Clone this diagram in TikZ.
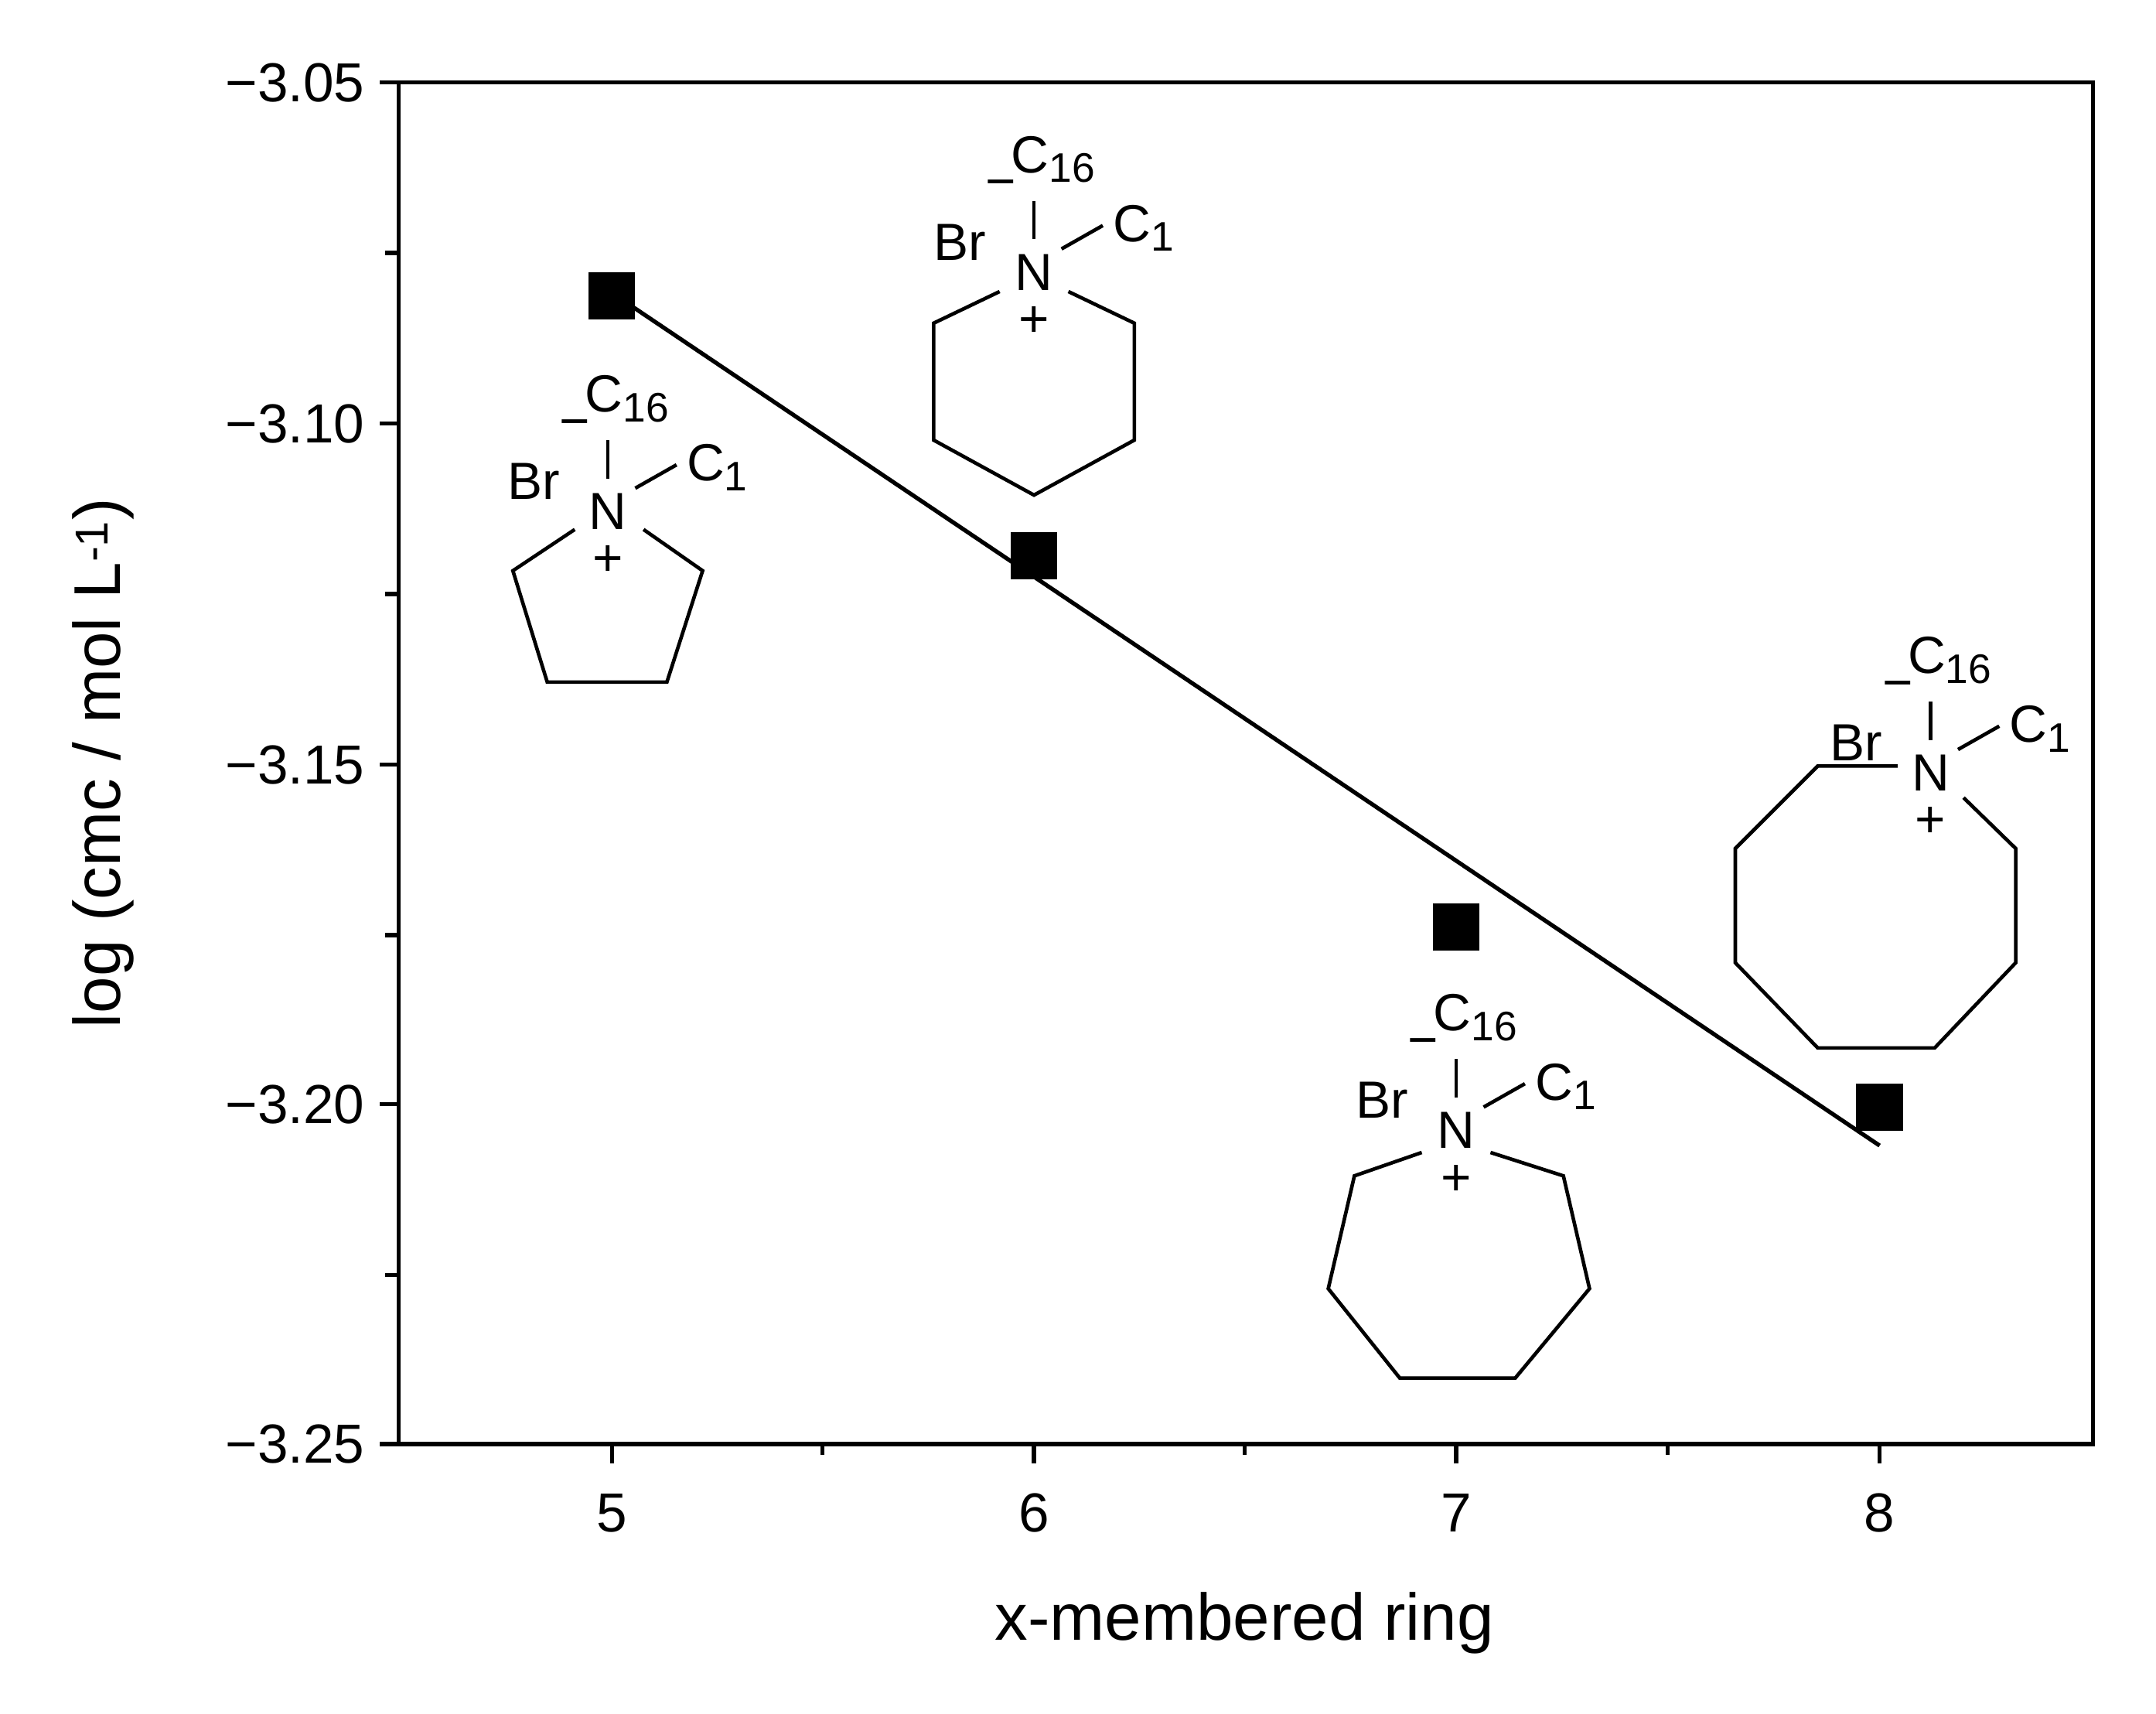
\documentclass[tikz,border=0pt]{standalone}
\usepackage{fontspec}
\setmainfont{Liberation Sans}
\newcommand{\headgrp}[2]{% x y
  \node[ch] at (#1,#2) {N};
  \node[ch] at (#1-54,#2-22) {Br};
  \node[ch] at (#1-24,#2-60) {−};
  \node[ch,anchor=west] at (#1-18,#2-82) {C\raisebox{-0.35ex}{\fontsize{30}{32}\selectfont 16}};
  \node[ch,anchor=west] at (#1+56,#2-32) {C\raisebox{-0.35ex}{\fontsize{30}{32}\selectfont 1}};
  \draw[bd] (#1,#2-52) -- (#1,#2-24);
  \draw[bd] (#1+20,#2-17) -- (#1+50,#2-34);
  \node[ch] at (#1,#2+36) {+};}
\begin{document}
\begin{tikzpicture}[x=1pt,y=-1pt,line width=3pt,
  tl/.style={font=\fontsize{40}{44}\selectfont},
  ch/.style={font=\fontsize{38}{40}\selectfont,inner sep=0pt},
  bd/.style={line width=2.6pt},
  pt/.style={fill=black,minimum size=34pt,inner sep=0pt}]
\useasboundingbox (0,0) rectangle (1568,1246);
\draw (290,60) rectangle (1522,1050);
\foreach \y/\l in {60/{−3.05},308/{−3.10},556/{−3.15},803/{−3.20},1050/{−3.25}}{
  \draw (290,\y) -- (276,\y);
  \node[tl,anchor=east] at (270,\y) {\l};}
\foreach \y in {184,432,680,927} \draw (290,\y) -- (280,\y);
\foreach \x/\l in {445/5,752/6,1059/7,1367/8}{
  \draw (\x,1050) -- (\x,1064);
  \node[tl] at (\x,1100) {\l};}
\foreach \x in {598,905,1213} \draw (\x,1050) -- (\x,1058);
\node[font=\fontsize{48}{52}\selectfont,rotate=90] at (75,555) {log (cmc / mol L\textsuperscript{-1})};
\node[font=\fontsize{48}{52}\selectfont] at (905,1180) {x-membered ring};
\coordinate (f1) at (460,223); \coordinate (f2) at (1367,833);
\draw (f1) -- (f2);
\node[pt] (p5) at (445,215) {};
\node[pt] (p6) at (752,404) {};
\node[pt] (p7) at (1059,674) {};
\node[pt] (p8) at (1367,805) {};
\headgrp{442}{372}
\draw[bd] (418,385) -- (373,415) -- (398,496) -- (485,496) -- (511,415) -- (468,385);
\headgrp{752}{198}
\draw[bd] (727,212) -- (679,235) -- (679,320) -- (752,360) -- (825,320) -- (825,235) -- (777,212);
\headgrp{1059}{822}
\draw[bd] (1034,838) -- (985,855) -- (966,937) -- (1018,1002) -- (1102,1002) -- (1156,937) -- (1137,855) -- (1084,838);
\headgrp{1404}{562}
\draw[bd] (1380,557) -- (1322,557) -- (1262,617) -- (1262,700) -- (1322,762) -- (1407,762) -- (1466,700) -- (1466,617) -- (1428,580);
\end{tikzpicture}
\end{document}
